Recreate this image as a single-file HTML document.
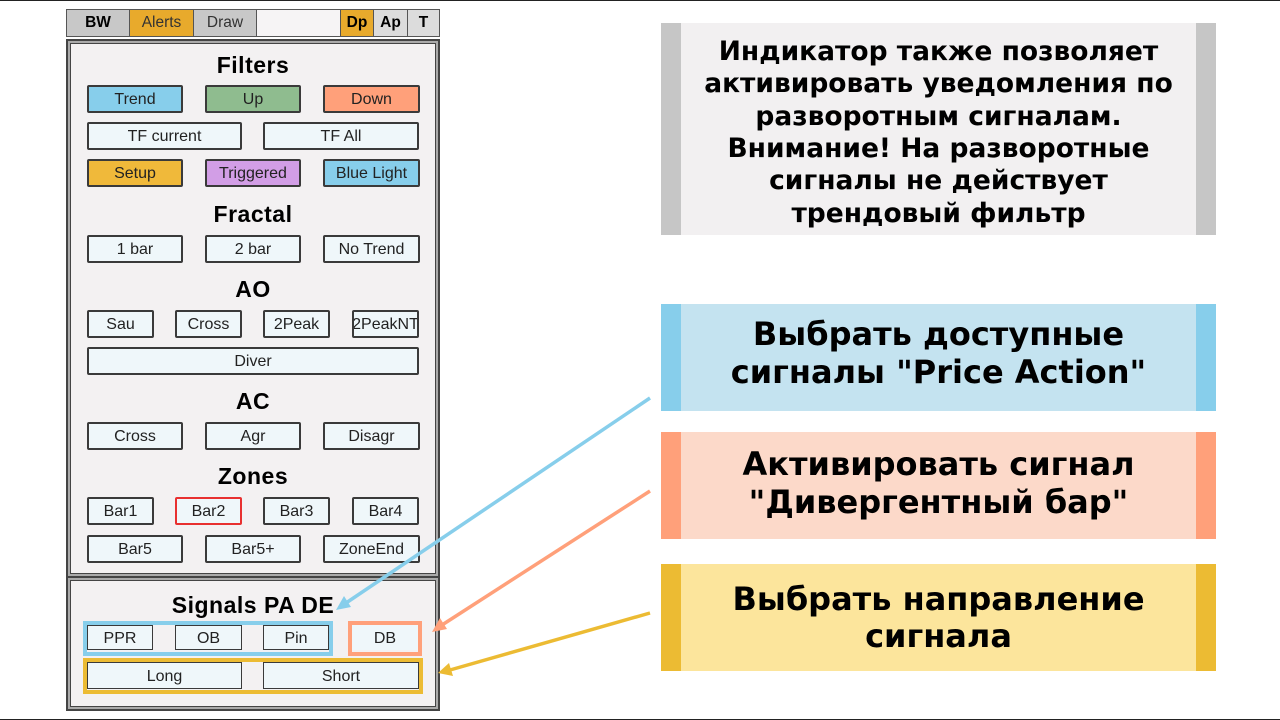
<!DOCTYPE html>
<html><head><meta charset="utf-8"><style>
*{margin:0;padding:0;box-sizing:border-box}
body{width:1280px;height:720px;background:#fff;position:relative;overflow:hidden;font-family:"Liberation Sans",Arial,sans-serif}
.a{position:absolute}
.frame{position:absolute;left:0;top:0;width:1280px;height:720px;border:1.5px solid #222;border-left:none;border-right:none}
.tb{position:absolute;top:9px;height:28px;border:1.5px solid #555;background:#c8c8c8;font-size:15.5px;display:flex;align-items:center;justify-content:center;color:#333}
.pan{position:absolute;background:#f3f1f2;border:2px solid #444;box-shadow:inset 0 0 0 2px #aaa,inset 0 0 0 3px #444}
.h{position:absolute;left:66px;width:374px;text-align:center;font-weight:bold;font-size:23px;color:#000;letter-spacing:0.5px}
.b{position:absolute;height:28px;background:#eff7fa;border:2px solid #3a3a3a;border-radius:2px;font-size:16px;color:#222;display:flex;align-items:center;justify-content:center;white-space:nowrap;padding-top:2px}
.s{position:absolute;height:25px;background:#eff7fa;border:1.5px solid #3a3a3a;font-size:16px;color:#222;display:flex;align-items:center;justify-content:center;padding-top:2px}
.box{position:absolute;left:661px;width:555px;display:flex;align-items:center;justify-content:center;text-align:center;font-family:"DejaVu Sans",Verdana,sans-serif;font-weight:bold;color:#000;white-space:nowrap}
</style></head><body>
<div class="frame"></div>
<div class="tb" style="left:66px;width:64px;font-weight:bold;color:#000">BW</div>
<div class="tb" style="left:129px;width:65px;background:#e8aa2c">Alerts</div>
<div class="tb" style="left:193px;width:64px">Draw</div>
<div class="tb" style="left:256px;width:85px;background:#f6f4f5"></div>
<div class="tb" style="left:340px;width:34px;background:#e8aa2c;font-weight:bold;color:#000">Dp</div>
<div class="tb" style="left:373px;width:35px;background:#dcdcdc;font-weight:bold;color:#000">Ap</div>
<div class="tb" style="left:407px;width:33px;background:#dcdcdc;font-weight:bold;color:#000">T</div>

<div class="pan" style="left:66px;top:39px;width:374px;height:539px"></div>
<div class="pan" style="left:66px;top:576px;width:374px;height:135px"></div>

<div class="h" style="top:52px">Filters</div>
<div class="b" style="left:87px;top:85px;width:96px;background:#87ceeb">Trend</div>
<div class="b" style="left:205px;top:85px;width:96px;background:#8fbc8f">Up</div>
<div class="b" style="left:323px;top:85px;width:97px;background:#ffa07a">Down</div>
<div class="b" style="left:87px;top:122px;width:155px">TF current</div>
<div class="b" style="left:263px;top:122px;width:156px">TF All</div>
<div class="b" style="left:87px;top:159px;width:96px;background:#f0b93a">Setup</div>
<div class="b" style="left:205px;top:159px;width:96px;background:#d29ee6">Triggered</div>
<div class="b" style="left:323px;top:159px;width:97px;background:#87ceeb">Blue Light</div>

<div class="h" style="top:201px">Fractal</div>
<div class="b" style="left:87px;top:235px;width:96px">1 bar</div>
<div class="b" style="left:205px;top:235px;width:96px">2 bar</div>
<div class="b" style="left:323px;top:235px;width:97px">No Trend</div>

<div class="h" style="top:276px">AO</div>
<div class="b" style="left:87px;top:310px;width:67px">Sau</div>
<div class="b" style="left:175px;top:310px;width:67px">Cross</div>
<div class="b" style="left:263px;top:310px;width:67px">2Peak</div>
<div class="b" style="left:352px;top:310px;width:67px;overflow:hidden">2PeakNT</div>
<div class="b" style="left:87px;top:347px;width:332px">Diver</div>

<div class="h" style="top:388px">AC</div>
<div class="b" style="left:87px;top:422px;width:96px">Cross</div>
<div class="b" style="left:205px;top:422px;width:96px">Agr</div>
<div class="b" style="left:323px;top:422px;width:97px">Disagr</div>

<div class="h" style="top:463px">Zones</div>
<div class="b" style="left:87px;top:497px;width:67px">Bar1</div>
<div class="b" style="left:175px;top:497px;width:67px;border-color:#e83030">Bar2</div>
<div class="b" style="left:263px;top:497px;width:67px">Bar3</div>
<div class="b" style="left:352px;top:497px;width:67px">Bar4</div>
<div class="b" style="left:87px;top:535px;width:96px">Bar5</div>
<div class="b" style="left:205px;top:535px;width:96px">Bar5+</div>
<div class="b" style="left:323px;top:535px;width:97px">ZoneEnd</div>

<div class="h" style="top:592px">Signals PA DE</div>
<div class="a" style="left:83px;top:621px;width:250px;height:35px;border:4px solid #87ceeb"></div>
<div class="s" style="left:87px;top:625px;width:66px">PPR</div>
<div class="s" style="left:175px;top:625px;width:67px">OB</div>
<div class="s" style="left:263px;top:625px;width:66px">Pin</div>
<div class="a" style="left:348px;top:621px;width:74px;height:35px;border:4px solid #ffa07a"></div>
<div class="s" style="left:352px;top:625px;width:66px;border:none">DB</div>
<div class="a" style="left:83px;top:658px;width:340px;height:36px;border:4px solid #ecbb33"></div>
<div class="s" style="left:87px;top:662px;width:155px;height:27px">Long</div>
<div class="s" style="left:263px;top:662px;width:156px;height:27px">Short</div>

<div class="box" style="top:23px;height:212px;background:#f2f0f1;border-left:20px solid #c6c6c6;border-right:20px solid #c6c6c6;font-size:26.5px;line-height:32.4px;padding-top:8px">Индикатор также позволяет<br>активировать уведомления по<br>разворотным сигналам.<br>Внимание! На разворотные<br>сигналы не действует<br>трендовый фильтр</div>
<div class="box" style="top:304px;height:107px;background:#c4e3f0;border-left:20px solid #87ceeb;border-right:20px solid #87ceeb;font-size:32px;line-height:38px;padding-bottom:10px">Выбрать доступные<br>сигналы "Price Action"</div>
<div class="box" style="top:432px;height:107px;background:#fcd9c9;border-left:20px solid #ffa07a;border-right:20px solid #ffa07a;font-size:32px;line-height:38px;padding-bottom:6px">Активировать сигнал<br>"Дивергентный бар"</div>
<div class="box" style="top:564px;height:107px;background:#fce59c;border-left:20px solid #ecbb33;border-right:20px solid #ecbb33;font-size:32px;line-height:37px">Выбрать направление<br>сигнала</div>

<svg class="a" style="left:0;top:0" width="1280" height="720">
<line x1="650" y1="398" x2="346" y2="603" stroke="#87ceeb" stroke-width="3.5"/>
<polygon points="336,610 344,596 351,607" fill="#87ceeb"/>
<line x1="650" y1="491" x2="442" y2="625" stroke="#ffa07a" stroke-width="3.5"/>
<polygon points="432,632 440,618 447,629" fill="#ffa07a"/>
<line x1="650" y1="613" x2="450" y2="670" stroke="#ecbb33" stroke-width="3.5"/>
<polygon points="438,673 449,663 453,676" fill="#ecbb33"/>
</svg>
</body></html>
